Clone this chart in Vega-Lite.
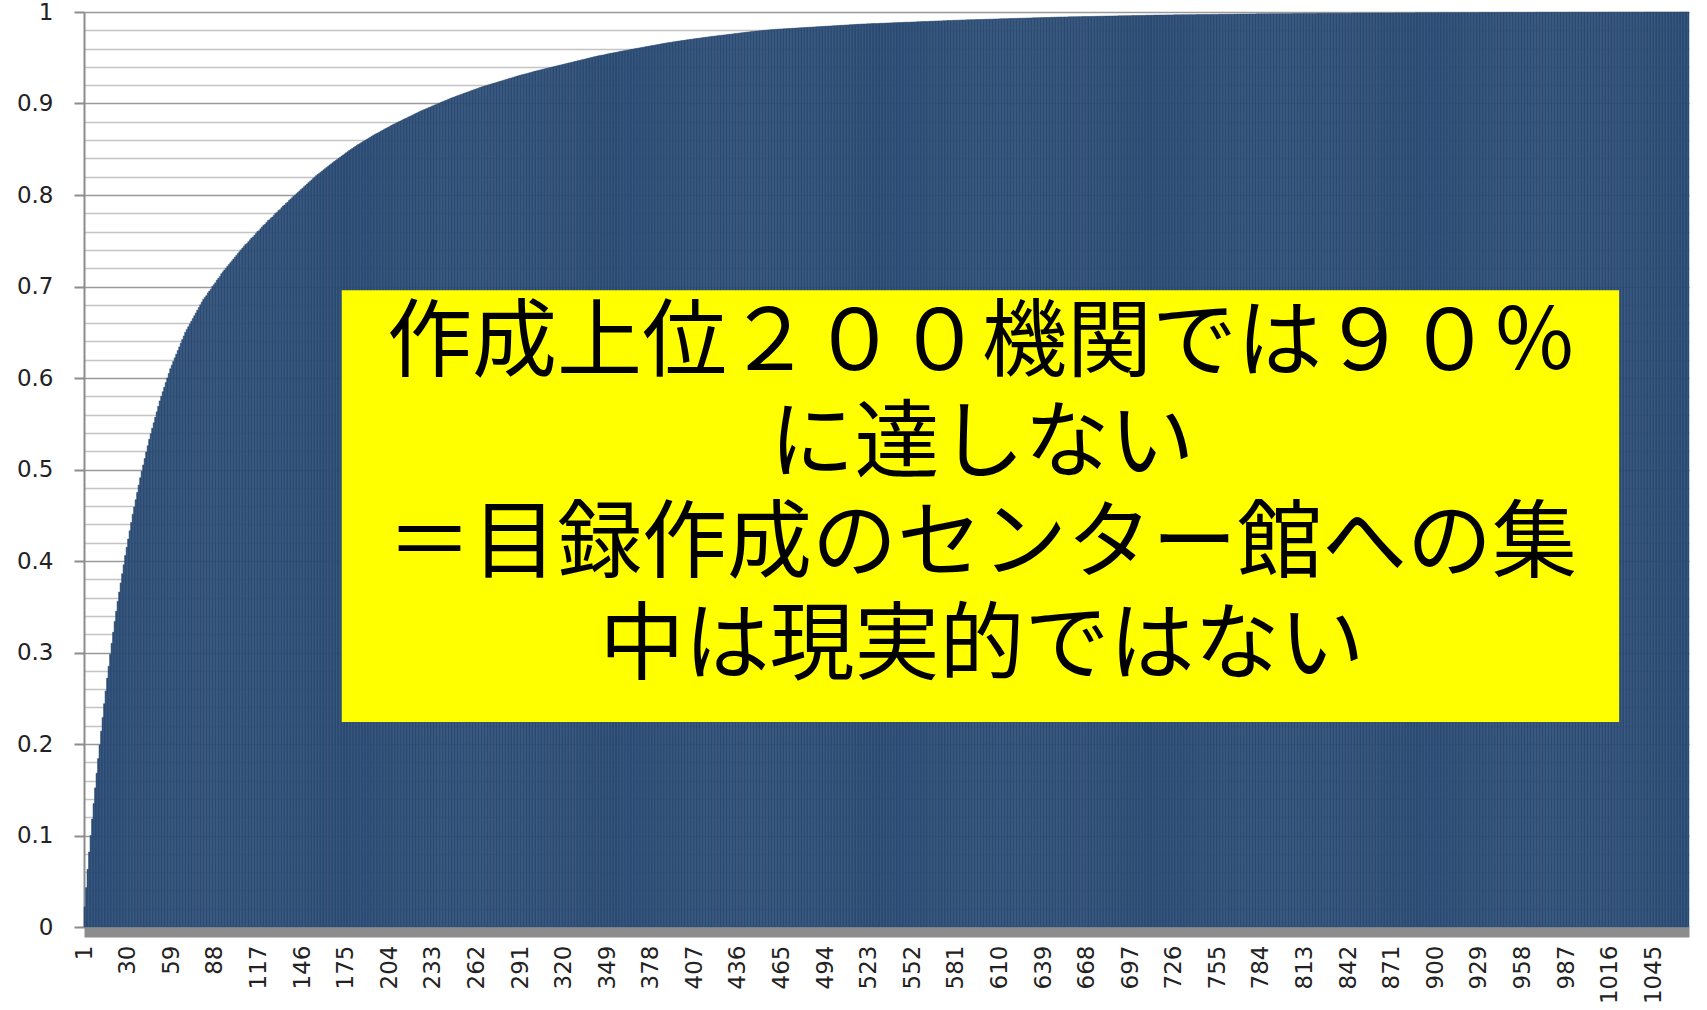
{
"$schema":"https://vega.github.io/schema/vega-lite/v6.json",
"width":1605,"height":915,
"autosize":{"type":"none"},
"padding":{"left":84,"top":12,"right":18,"bottom":83},
"background":"white",
"config":{"view":{"stroke":null}},
"layer":[
{"data":{"values":[
{"n":1,"v":0.022},{"n":2,"v":0.043},{"n":3,"v":0.063},{"n":4,"v":0.082},{"n":5,"v":0.1},{"n":6,"v":0.118},{"n":7,"v":0.135},{"n":8,"v":0.152},{"n":9,"v":0.168},{"n":10,"v":0.184},
{"n":11,"v":0.199},{"n":12,"v":0.214},{"n":13,"v":0.229},{"n":14,"v":0.244},{"n":15,"v":0.258},{"n":16,"v":0.272},{"n":17,"v":0.285},{"n":18,"v":0.298},{"n":19,"v":0.31},{"n":20,"v":0.322},
{"n":21,"v":0.334},{"n":22,"v":0.345},{"n":23,"v":0.356},{"n":24,"v":0.366},{"n":25,"v":0.376},{"n":26,"v":0.386},{"n":27,"v":0.396},{"n":28,"v":0.406},{"n":29,"v":0.415},{"n":30,"v":0.424},
{"n":31,"v":0.433},{"n":32,"v":0.442},{"n":33,"v":0.451},{"n":34,"v":0.459},{"n":35,"v":0.467},{"n":36,"v":0.475},{"n":37,"v":0.483},{"n":38,"v":0.491},{"n":39,"v":0.498},{"n":40,"v":0.505},
{"n":41,"v":0.512},{"n":42,"v":0.519},{"n":43,"v":0.526},{"n":44,"v":0.533},{"n":45,"v":0.539},{"n":46,"v":0.545},{"n":47,"v":0.551},{"n":48,"v":0.557},{"n":49,"v":0.563},{"n":50,"v":0.569},
{"n":51,"v":0.575},{"n":52,"v":0.58},{"n":53,"v":0.585},{"n":54,"v":0.59},{"n":55,"v":0.595},{"n":56,"v":0.6},{"n":57,"v":0.605},{"n":58,"v":0.61},{"n":59,"v":0.614},{"n":60,"v":0.618},
{"n":61,"v":0.622},{"n":62,"v":0.626},{"n":63,"v":0.63},{"n":64,"v":0.634},{"n":65,"v":0.638},{"n":66,"v":0.642},{"n":67,"v":0.646},{"n":68,"v":0.65},{"n":69,"v":0.653},{"n":70,"v":0.656},
{"n":71,"v":0.659},{"n":72,"v":0.662},{"n":73,"v":0.665},{"n":74,"v":0.668},{"n":75,"v":0.671},{"n":76,"v":0.674},{"n":77,"v":0.677},{"n":78,"v":0.68},{"n":79,"v":0.683},{"n":80,"v":0.686},
{"n":81,"v":0.688},{"n":82,"v":0.69},{"n":83,"v":0.693},{"n":84,"v":0.695},{"n":85,"v":0.697},{"n":86,"v":0.7},{"n":87,"v":0.702},{"n":88,"v":0.704},{"n":89,"v":0.707},{"n":90,"v":0.709},
{"n":91,"v":0.711},{"n":92,"v":0.714},{"n":93,"v":0.716},{"n":94,"v":0.718},{"n":95,"v":0.72},{"n":96,"v":0.722},{"n":97,"v":0.724},{"n":98,"v":0.726},{"n":99,"v":0.728},{"n":100,"v":0.73},
{"n":101,"v":0.732},{"n":102,"v":0.734},{"n":103,"v":0.736},{"n":104,"v":0.738},{"n":105,"v":0.74},{"n":106,"v":0.742},{"n":107,"v":0.744},{"n":108,"v":0.746},{"n":109,"v":0.747},{"n":110,"v":0.749},
{"n":111,"v":0.751},{"n":112,"v":0.753},{"n":113,"v":0.754},{"n":114,"v":0.756},{"n":115,"v":0.758},{"n":116,"v":0.76},{"n":117,"v":0.761},{"n":118,"v":0.763},{"n":119,"v":0.765},{"n":120,"v":0.767},
{"n":121,"v":0.768},{"n":122,"v":0.77},{"n":123,"v":0.772},{"n":124,"v":0.773},{"n":125,"v":0.775},{"n":126,"v":0.776},{"n":127,"v":0.778},{"n":128,"v":0.78},{"n":129,"v":0.781},{"n":130,"v":0.783},
{"n":131,"v":0.784},{"n":132,"v":0.786},{"n":133,"v":0.788},{"n":134,"v":0.789},{"n":135,"v":0.791},{"n":136,"v":0.792},{"n":137,"v":0.794},{"n":138,"v":0.7955},{"n":139,"v":0.797},{"n":140,"v":0.7985},
{"n":141,"v":0.8},{"n":142,"v":0.8015},{"n":143,"v":0.803},{"n":144,"v":0.8045},{"n":145,"v":0.806},{"n":146,"v":0.8075},{"n":147,"v":0.809},{"n":148,"v":0.8105},{"n":149,"v":0.812},{"n":150,"v":0.8135},
{"n":151,"v":0.815},{"n":152,"v":0.8165},{"n":153,"v":0.818},{"n":154,"v":0.8195},{"n":155,"v":0.821},{"n":156,"v":0.8223},{"n":157,"v":0.8236},{"n":158,"v":0.8249},{"n":159,"v":0.8262},{"n":160,"v":0.8275},
{"n":161,"v":0.8288},{"n":162,"v":0.8301},{"n":163,"v":0.8314},{"n":164,"v":0.8327},{"n":165,"v":0.834},{"n":166,"v":0.8353},{"n":167,"v":0.8365},{"n":168,"v":0.8377},{"n":169,"v":0.8389},{"n":170,"v":0.8401},
{"n":171,"v":0.8413},{"n":172,"v":0.8425},{"n":173,"v":0.8437},{"n":174,"v":0.8449},{"n":175,"v":0.8461},{"n":176,"v":0.8473},{"n":177,"v":0.8485},{"n":178,"v":0.8496},{"n":179,"v":0.8507},{"n":180,"v":0.8518},
{"n":181,"v":0.8529},{"n":182,"v":0.854},{"n":183,"v":0.8551},{"n":184,"v":0.8561},{"n":185,"v":0.8571},{"n":186,"v":0.8581},{"n":187,"v":0.8591},{"n":188,"v":0.8601},{"n":189,"v":0.8611},{"n":190,"v":0.8621},
{"n":191,"v":0.8631},{"n":192,"v":0.8641},{"n":193,"v":0.8651},{"n":194,"v":0.866},{"n":195,"v":0.8669},{"n":196,"v":0.8678},{"n":197,"v":0.8687},{"n":198,"v":0.8696},{"n":199,"v":0.8705},{"n":200,"v":0.8714},
{"n":201,"v":0.8723},{"n":202,"v":0.8732},{"n":203,"v":0.8741},{"n":204,"v":0.875},{"n":205,"v":0.8759},{"n":206,"v":0.8768},{"n":207,"v":0.8776},{"n":208,"v":0.8784},{"n":209,"v":0.8792},{"n":210,"v":0.88},
{"n":211,"v":0.8808},{"n":212,"v":0.8816},{"n":213,"v":0.8824},{"n":214,"v":0.8832},{"n":215,"v":0.884},{"n":216,"v":0.8848},{"n":217,"v":0.8856},{"n":218,"v":0.8864},{"n":219,"v":0.8872},{"n":220,"v":0.888},
{"n":221,"v":0.8888},{"n":222,"v":0.8896},{"n":223,"v":0.8904},{"n":224,"v":0.8912},{"n":225,"v":0.892},{"n":226,"v":0.8927},{"n":227,"v":0.8934},{"n":228,"v":0.8941},{"n":229,"v":0.8948},{"n":230,"v":0.8955},
{"n":231,"v":0.8962},{"n":232,"v":0.8969},{"n":233,"v":0.8976},{"n":234,"v":0.8983},{"n":235,"v":0.899},{"n":236,"v":0.8997},{"n":237,"v":0.9004},{"n":238,"v":0.9011},{"n":239,"v":0.9018},{"n":240,"v":0.9025},
{"n":241,"v":0.9032},{"n":242,"v":0.9039},{"n":243,"v":0.9046},{"n":244,"v":0.9053},{"n":245,"v":0.906},{"n":246,"v":0.9066},{"n":247,"v":0.9072},{"n":248,"v":0.9078},{"n":249,"v":0.9084},{"n":250,"v":0.909},
{"n":251,"v":0.9096},{"n":252,"v":0.9102},{"n":253,"v":0.9108},{"n":254,"v":0.9114},{"n":255,"v":0.912},{"n":256,"v":0.9126},{"n":257,"v":0.9132},{"n":258,"v":0.9138},{"n":259,"v":0.9144},{"n":260,"v":0.915},
{"n":261,"v":0.9156},{"n":262,"v":0.9162},{"n":263,"v":0.9168},{"n":264,"v":0.9174},{"n":265,"v":0.918},{"n":266,"v":0.9185},{"n":267,"v":0.919},{"n":268,"v":0.9195},{"n":269,"v":0.92},{"n":270,"v":0.9205},
{"n":271,"v":0.921},{"n":272,"v":0.9215},{"n":273,"v":0.922},{"n":274,"v":0.9225},{"n":275,"v":0.923},{"n":276,"v":0.9235},{"n":277,"v":0.924},{"n":278,"v":0.9245},{"n":279,"v":0.925},{"n":280,"v":0.9255},
{"n":281,"v":0.926},{"n":282,"v":0.9265},{"n":283,"v":0.927},{"n":284,"v":0.9275},{"n":285,"v":0.928},{"n":286,"v":0.9285},{"n":287,"v":0.929},{"n":288,"v":0.9295},{"n":289,"v":0.93},{"n":290,"v":0.9305},
{"n":291,"v":0.931},{"n":292,"v":0.9314},{"n":293,"v":0.9318},{"n":294,"v":0.9322},{"n":295,"v":0.9326},{"n":296,"v":0.933},{"n":297,"v":0.9335},{"n":298,"v":0.934},{"n":299,"v":0.9345},{"n":300,"v":0.935},
{"n":301,"v":0.9354},{"n":302,"v":0.9358},{"n":303,"v":0.9362},{"n":304,"v":0.9366},{"n":305,"v":0.937},{"n":306,"v":0.9374},{"n":307,"v":0.9378},{"n":308,"v":0.9382},{"n":309,"v":0.9386},{"n":310,"v":0.939},
{"n":311,"v":0.9394},{"n":312,"v":0.9398},{"n":313,"v":0.9402},{"n":314,"v":0.9406},{"n":315,"v":0.941},{"n":316,"v":0.9414},{"n":317,"v":0.9418},{"n":318,"v":0.9422},{"n":319,"v":0.9426},{"n":320,"v":0.943},
{"n":321,"v":0.9434},{"n":322,"v":0.9438},{"n":323,"v":0.9442},{"n":324,"v":0.9446},{"n":325,"v":0.945},{"n":326,"v":0.9454},{"n":327,"v":0.9458},{"n":328,"v":0.9462},{"n":329,"v":0.9466},{"n":330,"v":0.947},
{"n":331,"v":0.9474},{"n":332,"v":0.9478},{"n":333,"v":0.9482},{"n":334,"v":0.9486},{"n":335,"v":0.949},{"n":336,"v":0.9494},{"n":337,"v":0.9498},{"n":338,"v":0.9502},{"n":339,"v":0.9506},{"n":340,"v":0.951},
{"n":341,"v":0.9514},{"n":342,"v":0.9518},{"n":343,"v":0.9521},{"n":344,"v":0.9524},{"n":345,"v":0.9527},{"n":346,"v":0.953},{"n":347,"v":0.9534},{"n":348,"v":0.9538},{"n":349,"v":0.9542},{"n":350,"v":0.9545},
{"n":351,"v":0.9548},{"n":352,"v":0.9551},{"n":353,"v":0.9554},{"n":354,"v":0.9557},{"n":355,"v":0.956},{"n":356,"v":0.9564},{"n":357,"v":0.9568},{"n":358,"v":0.9571},{"n":359,"v":0.9574},{"n":360,"v":0.9577},
{"n":361,"v":0.958},{"n":362,"v":0.9583},{"n":363,"v":0.9586},{"n":364,"v":0.9589},{"n":365,"v":0.9592},{"n":366,"v":0.9595},{"n":367,"v":0.9598},{"n":368,"v":0.9601},{"n":369,"v":0.9604},{"n":370,"v":0.9607},
{"n":371,"v":0.961},{"n":372,"v":0.9613},{"n":373,"v":0.9616},{"n":374,"v":0.9619},{"n":375,"v":0.9622},{"n":376,"v":0.9625},{"n":377,"v":0.9628},{"n":378,"v":0.9631},{"n":379,"v":0.9634},{"n":380,"v":0.9637},
{"n":381,"v":0.964},{"n":382,"v":0.9643},{"n":383,"v":0.9646},{"n":384,"v":0.9649},{"n":385,"v":0.9652},{"n":386,"v":0.9655},{"n":387,"v":0.9658},{"n":388,"v":0.966},{"n":389,"v":0.9663},{"n":390,"v":0.9666},
{"n":391,"v":0.9668},{"n":392,"v":0.9671},{"n":393,"v":0.9674},{"n":394,"v":0.9676},{"n":395,"v":0.9679},{"n":396,"v":0.9682},{"n":397,"v":0.9684},{"n":398,"v":0.9687},{"n":399,"v":0.9689},{"n":400,"v":0.9691},
{"n":401,"v":0.9694},{"n":402,"v":0.9696},{"n":403,"v":0.9698},{"n":404,"v":0.9701},{"n":405,"v":0.9703},{"n":406,"v":0.9705},{"n":407,"v":0.9708},{"n":408,"v":0.971},{"n":409,"v":0.9712},{"n":410,"v":0.9714},
{"n":411,"v":0.9717},{"n":412,"v":0.9719},{"n":413,"v":0.9721},{"n":414,"v":0.9723},{"n":415,"v":0.9725},{"n":416,"v":0.9728},{"n":417,"v":0.973},{"n":418,"v":0.9732},{"n":419,"v":0.9734},{"n":420,"v":0.9736},
{"n":421,"v":0.9738},{"n":422,"v":0.974},{"n":423,"v":0.9742},{"n":424,"v":0.9744},{"n":425,"v":0.9746},{"n":426,"v":0.9748},{"n":427,"v":0.975},{"n":428,"v":0.9752},{"n":429,"v":0.9754},{"n":430,"v":0.9756},
{"n":431,"v":0.9758},{"n":432,"v":0.976},{"n":433,"v":0.9762},{"n":434,"v":0.9764},{"n":435,"v":0.9766},{"n":436,"v":0.9768},{"n":437,"v":0.977},{"n":438,"v":0.9772},{"n":439,"v":0.9774},{"n":440,"v":0.9776},
{"n":441,"v":0.9778},{"n":442,"v":0.978},{"n":443,"v":0.9782},{"n":444,"v":0.9784},{"n":445,"v":0.9786},{"n":446,"v":0.9788},{"n":447,"v":0.979},{"n":448,"v":0.9791},{"n":449,"v":0.9793},{"n":450,"v":0.9795},
{"n":451,"v":0.9796},{"n":452,"v":0.9798},{"n":453,"v":0.98},{"n":454,"v":0.9801},{"n":455,"v":0.9803},{"n":456,"v":0.9804},{"n":457,"v":0.9806},{"n":458,"v":0.9807},{"n":459,"v":0.9809},{"n":460,"v":0.981},
{"n":461,"v":0.9811},{"n":462,"v":0.9812},{"n":463,"v":0.9813},{"n":464,"v":0.9814},{"n":465,"v":0.9815},{"n":466,"v":0.9816},{"n":467,"v":0.9817},{"n":468,"v":0.9818},{"n":469,"v":0.9819},{"n":470,"v":0.982},
{"n":471,"v":0.9821},{"n":472,"v":0.9822},{"n":473,"v":0.9823},{"n":474,"v":0.9824},{"n":475,"v":0.9825},{"n":476,"v":0.9826},{"n":477,"v":0.9827},{"n":478,"v":0.9828},{"n":479,"v":0.9829},{"n":480,"v":0.983},
{"n":481,"v":0.9831},{"n":482,"v":0.9832},{"n":483,"v":0.9833},{"n":484,"v":0.9834},{"n":485,"v":0.9835},{"n":486,"v":0.9836},{"n":487,"v":0.9837},{"n":488,"v":0.9838},{"n":489,"v":0.9839},{"n":490,"v":0.984},
{"n":491,"v":0.9841},{"n":492,"v":0.9842},{"n":493,"v":0.9843},{"n":494,"v":0.9844},{"n":495,"v":0.9845},{"n":496,"v":0.9846},{"n":497,"v":0.9847},{"n":498,"v":0.9848},{"n":499,"v":0.9849},{"n":500,"v":0.985},
{"n":501,"v":0.9851},{"n":502,"v":0.9852},{"n":503,"v":0.9853},{"n":504,"v":0.9854},{"n":505,"v":0.9855},{"n":506,"v":0.9856},{"n":507,"v":0.9857},{"n":508,"v":0.9858},{"n":509,"v":0.9859},{"n":510,"v":0.986},
{"n":511,"v":0.9861},{"n":512,"v":0.9862},{"n":513,"v":0.9863},{"n":514,"v":0.9864},{"n":515,"v":0.9865},{"n":516,"v":0.9866},{"n":517,"v":0.9867},{"n":518,"v":0.9868},{"n":519,"v":0.9869},{"n":520,"v":0.9869},
{"n":521,"v":0.987},{"n":522,"v":0.9871},{"n":523,"v":0.9871},{"n":524,"v":0.9872},{"n":525,"v":0.9873},{"n":526,"v":0.9873},{"n":527,"v":0.9874},{"n":528,"v":0.9875},{"n":529,"v":0.9875},{"n":530,"v":0.9876},
{"n":531,"v":0.9877},{"n":532,"v":0.9877},{"n":533,"v":0.9878},{"n":534,"v":0.9879},{"n":535,"v":0.9879},{"n":536,"v":0.988},{"n":537,"v":0.9881},{"n":538,"v":0.9881},{"n":539,"v":0.9882},{"n":540,"v":0.9883},
{"n":541,"v":0.9883},{"n":542,"v":0.9884},{"n":543,"v":0.9885},{"n":544,"v":0.9885},{"n":545,"v":0.9886},{"n":546,"v":0.9887},{"n":547,"v":0.9887},{"n":548,"v":0.9888},{"n":549,"v":0.9889},{"n":550,"v":0.9889},
{"n":551,"v":0.989},{"n":552,"v":0.9891},{"n":553,"v":0.9891},{"n":554,"v":0.9892},{"n":555,"v":0.9893},{"n":556,"v":0.9893},{"n":557,"v":0.9894},{"n":558,"v":0.9895},{"n":559,"v":0.9895},{"n":560,"v":0.9896},
{"n":561,"v":0.9897},{"n":562,"v":0.9897},{"n":563,"v":0.9898},{"n":564,"v":0.9899},{"n":565,"v":0.9899},{"n":566,"v":0.99},{"n":567,"v":0.9901},{"n":568,"v":0.9901},{"n":569,"v":0.9902},{"n":570,"v":0.9903},
{"n":571,"v":0.9903},{"n":572,"v":0.9904},{"n":573,"v":0.9905},{"n":574,"v":0.9905},{"n":575,"v":0.9906},{"n":576,"v":0.9907},{"n":577,"v":0.9907},{"n":578,"v":0.9908},{"n":579,"v":0.9909},{"n":580,"v":0.9909},
{"n":581,"v":0.991},{"n":582,"v":0.9911},{"n":583,"v":0.9911},{"n":584,"v":0.9912},{"n":585,"v":0.9912},{"n":586,"v":0.9913},{"n":587,"v":0.9913},{"n":588,"v":0.9914},{"n":589,"v":0.9914},{"n":590,"v":0.9915},
{"n":591,"v":0.9915},{"n":592,"v":0.9916},{"n":593,"v":0.9916},{"n":594,"v":0.9917},{"n":595,"v":0.9917},{"n":596,"v":0.9918},{"n":597,"v":0.9918},{"n":598,"v":0.9919},{"n":599,"v":0.9919},{"n":600,"v":0.992},
{"n":601,"v":0.992},{"n":602,"v":0.9921},{"n":603,"v":0.9921},{"n":604,"v":0.9922},{"n":605,"v":0.9922},{"n":606,"v":0.9923},{"n":607,"v":0.9923},{"n":608,"v":0.9924},{"n":609,"v":0.9924},{"n":610,"v":0.9925},
{"n":611,"v":0.9925},{"n":612,"v":0.9926},{"n":613,"v":0.9926},{"n":614,"v":0.9927},{"n":615,"v":0.9927},{"n":616,"v":0.9928},{"n":617,"v":0.9928},{"n":618,"v":0.9929},{"n":619,"v":0.9929},{"n":620,"v":0.993},
{"n":621,"v":0.993},{"n":622,"v":0.9931},{"n":623,"v":0.9931},{"n":624,"v":0.9932},{"n":625,"v":0.9932},{"n":626,"v":0.9933},{"n":627,"v":0.9933},{"n":628,"v":0.9934},{"n":629,"v":0.9934},{"n":630,"v":0.9935},
{"n":631,"v":0.9935},{"n":632,"v":0.9936},{"n":633,"v":0.9936},{"n":634,"v":0.9937},{"n":635,"v":0.9937},{"n":636,"v":0.9938},{"n":637,"v":0.9938},{"n":638,"v":0.9939},{"n":639,"v":0.9939},{"n":640,"v":0.994},
{"n":641,"v":0.994},{"n":642,"v":0.9941},{"n":643,"v":0.9941},{"n":644,"v":0.9942},{"n":645,"v":0.9942},{"n":646,"v":0.9943},{"n":647,"v":0.9943},{"n":648,"v":0.9944},{"n":649,"v":0.9944},{"n":650,"v":0.9945},
{"n":651,"v":0.9945},{"n":652,"v":0.9945},{"n":653,"v":0.9946},{"n":654,"v":0.9946},{"n":655,"v":0.9946},{"n":656,"v":0.9947},{"n":657,"v":0.9947},{"n":658,"v":0.9947},{"n":659,"v":0.9948},{"n":660,"v":0.9948},
{"n":661,"v":0.9948},{"n":662,"v":0.9949},{"n":663,"v":0.9949},{"n":664,"v":0.9949},{"n":665,"v":0.995},{"n":666,"v":0.995},{"n":667,"v":0.995},{"n":668,"v":0.9951},{"n":669,"v":0.9951},{"n":670,"v":0.9951},
{"n":671,"v":0.9952},{"n":672,"v":0.9952},{"n":673,"v":0.9952},{"n":674,"v":0.9953},{"n":675,"v":0.9953},{"n":676,"v":0.9953},{"n":677,"v":0.9954},{"n":678,"v":0.9954},{"n":679,"v":0.9954},{"n":680,"v":0.9955},
{"n":681,"v":0.9955},{"n":682,"v":0.9955},{"n":683,"v":0.9956},{"n":684,"v":0.9956},{"n":685,"v":0.9956},{"n":686,"v":0.9957},{"n":687,"v":0.9957},{"n":688,"v":0.9957},{"n":689,"v":0.9958},{"n":690,"v":0.9958},
{"n":691,"v":0.9958},{"n":692,"v":0.9959},{"n":693,"v":0.9959},{"n":694,"v":0.9959},{"n":695,"v":0.996},{"n":696,"v":0.996},{"n":697,"v":0.996},{"n":698,"v":0.9961},{"n":699,"v":0.9961},{"n":700,"v":0.9961},
{"n":701,"v":0.9962},{"n":702,"v":0.9962},{"n":703,"v":0.9962},{"n":704,"v":0.9963},{"n":705,"v":0.9963},{"n":706,"v":0.9963},{"n":707,"v":0.9964},{"n":708,"v":0.9964},{"n":709,"v":0.9964},{"n":710,"v":0.9965},
{"n":711,"v":0.9965},{"n":712,"v":0.9965},{"n":713,"v":0.9966},{"n":714,"v":0.9966},{"n":715,"v":0.9966},{"n":716,"v":0.9967},{"n":717,"v":0.9967},{"n":718,"v":0.9967},{"n":719,"v":0.9967},{"n":720,"v":0.9967},
{"n":721,"v":0.9968},{"n":722,"v":0.9968},{"n":723,"v":0.9968},{"n":724,"v":0.9968},{"n":725,"v":0.9968},{"n":726,"v":0.9969},{"n":727,"v":0.9969},{"n":728,"v":0.9969},{"n":729,"v":0.9969},{"n":730,"v":0.9969},
{"n":731,"v":0.997},{"n":732,"v":0.997},{"n":733,"v":0.997},{"n":734,"v":0.997},{"n":735,"v":0.997},{"n":736,"v":0.9971},{"n":737,"v":0.9971},{"n":738,"v":0.9971},{"n":739,"v":0.9971},{"n":740,"v":0.9971},
{"n":741,"v":0.9972},{"n":742,"v":0.9972},{"n":743,"v":0.9972},{"n":744,"v":0.9972},{"n":745,"v":0.9972},{"n":746,"v":0.9973},{"n":747,"v":0.9973},{"n":748,"v":0.9973},{"n":749,"v":0.9973},{"n":750,"v":0.9973},
{"n":751,"v":0.9974},{"n":752,"v":0.9974},{"n":753,"v":0.9974},{"n":754,"v":0.9974},{"n":755,"v":0.9974},{"n":756,"v":0.9975},{"n":757,"v":0.9975},{"n":758,"v":0.9975},{"n":759,"v":0.9975},{"n":760,"v":0.9975},
{"n":761,"v":0.9976},{"n":762,"v":0.9976},{"n":763,"v":0.9976},{"n":764,"v":0.9976},{"n":765,"v":0.9976},{"n":766,"v":0.9977},{"n":767,"v":0.9977},{"n":768,"v":0.9977},{"n":769,"v":0.9977},{"n":770,"v":0.9977},
{"n":771,"v":0.9978},{"n":772,"v":0.9978},{"n":773,"v":0.9978},{"n":774,"v":0.9978},{"n":775,"v":0.9978},{"n":776,"v":0.9979},{"n":777,"v":0.9979},{"n":778,"v":0.9979},{"n":779,"v":0.9979},{"n":780,"v":0.9979},
{"n":781,"v":0.998},{"n":782,"v":0.998},{"n":783,"v":0.998},{"n":784,"v":0.998},{"n":785,"v":0.998},{"n":786,"v":0.998},{"n":787,"v":0.998},{"n":788,"v":0.998},{"n":789,"v":0.9981},{"n":790,"v":0.9981},
{"n":791,"v":0.9981},{"n":792,"v":0.9981},{"n":793,"v":0.9981},{"n":794,"v":0.9981},{"n":795,"v":0.9981},{"n":796,"v":0.9981},{"n":797,"v":0.9982},{"n":798,"v":0.9982},{"n":799,"v":0.9982},{"n":800,"v":0.9982},
{"n":801,"v":0.9982},{"n":802,"v":0.9982},{"n":803,"v":0.9982},{"n":804,"v":0.9982},{"n":805,"v":0.9983},{"n":806,"v":0.9983},{"n":807,"v":0.9983},{"n":808,"v":0.9983},{"n":809,"v":0.9983},{"n":810,"v":0.9983},
{"n":811,"v":0.9983},{"n":812,"v":0.9983},{"n":813,"v":0.9984},{"n":814,"v":0.9984},{"n":815,"v":0.9984},{"n":816,"v":0.9984},{"n":817,"v":0.9984},{"n":818,"v":0.9984},{"n":819,"v":0.9984},{"n":820,"v":0.9984},
{"n":821,"v":0.9985},{"n":822,"v":0.9985},{"n":823,"v":0.9985},{"n":824,"v":0.9985},{"n":825,"v":0.9985},{"n":826,"v":0.9985},{"n":827,"v":0.9985},{"n":828,"v":0.9985},{"n":829,"v":0.9986},{"n":830,"v":0.9986},
{"n":831,"v":0.9986},{"n":832,"v":0.9986},{"n":833,"v":0.9986},{"n":834,"v":0.9986},{"n":835,"v":0.9986},{"n":836,"v":0.9986},{"n":837,"v":0.9987},{"n":838,"v":0.9987},{"n":839,"v":0.9987},{"n":840,"v":0.9987},
{"n":841,"v":0.9987},{"n":842,"v":0.9987},{"n":843,"v":0.9987},{"n":844,"v":0.9987},{"n":845,"v":0.9988},{"n":846,"v":0.9988},{"n":847,"v":0.9988},{"n":848,"v":0.9988},{"n":849,"v":0.9988},{"n":850,"v":0.9988},
{"n":851,"v":0.9988},{"n":852,"v":0.9988},{"n":853,"v":0.9988},{"n":854,"v":0.9988},{"n":855,"v":0.9988},{"n":856,"v":0.9988},{"n":857,"v":0.9988},{"n":858,"v":0.9988},{"n":859,"v":0.9989},{"n":860,"v":0.9989},
{"n":861,"v":0.9989},{"n":862,"v":0.9989},{"n":863,"v":0.9989},{"n":864,"v":0.9989},{"n":865,"v":0.9989},{"n":866,"v":0.9989},{"n":867,"v":0.9989},{"n":868,"v":0.9989},{"n":869,"v":0.9989},{"n":870,"v":0.9989},
{"n":871,"v":0.9989},{"n":872,"v":0.9989},{"n":873,"v":0.999},{"n":874,"v":0.999},{"n":875,"v":0.999},{"n":876,"v":0.999},{"n":877,"v":0.999},{"n":878,"v":0.999},{"n":879,"v":0.999},{"n":880,"v":0.999},
{"n":881,"v":0.999},{"n":882,"v":0.999},{"n":883,"v":0.999},{"n":884,"v":0.999},{"n":885,"v":0.999},{"n":886,"v":0.999},{"n":887,"v":0.9991},{"n":888,"v":0.9991},{"n":889,"v":0.9991},{"n":890,"v":0.9991},
{"n":891,"v":0.9991},{"n":892,"v":0.9991},{"n":893,"v":0.9991},{"n":894,"v":0.9991},{"n":895,"v":0.9991},{"n":896,"v":0.9991},{"n":897,"v":0.9991},{"n":898,"v":0.9991},{"n":899,"v":0.9991},{"n":900,"v":0.9991},
{"n":901,"v":0.9992},{"n":902,"v":0.9992},{"n":903,"v":0.9992},{"n":904,"v":0.9992},{"n":905,"v":0.9992},{"n":906,"v":0.9992},{"n":907,"v":0.9992},{"n":908,"v":0.9992},{"n":909,"v":0.9992},{"n":910,"v":0.9992},
{"n":911,"v":0.9992},{"n":912,"v":0.9992},{"n":913,"v":0.9992},{"n":914,"v":0.9992},{"n":915,"v":0.9993},{"n":916,"v":0.9993},{"n":917,"v":0.9993},{"n":918,"v":0.9993},{"n":919,"v":0.9993},{"n":920,"v":0.9993},
{"n":921,"v":0.9993},{"n":922,"v":0.9993},{"n":923,"v":0.9993},{"n":924,"v":0.9993},{"n":925,"v":0.9993},{"n":926,"v":0.9993},{"n":927,"v":0.9993},{"n":928,"v":0.9993},{"n":929,"v":0.9994},{"n":930,"v":0.9994},
{"n":931,"v":0.9994},{"n":932,"v":0.9994},{"n":933,"v":0.9994},{"n":934,"v":0.9994},{"n":935,"v":0.9994},{"n":936,"v":0.9994},{"n":937,"v":0.9994},{"n":938,"v":0.9994},{"n":939,"v":0.9994},{"n":940,"v":0.9994},
{"n":941,"v":0.9994},{"n":942,"v":0.9994},{"n":943,"v":0.9995},{"n":944,"v":0.9995},{"n":945,"v":0.9995},{"n":946,"v":0.9995},{"n":947,"v":0.9995},{"n":948,"v":0.9995},{"n":949,"v":0.9995},{"n":950,"v":0.9995},
{"n":951,"v":0.9995},{"n":952,"v":0.9995},{"n":953,"v":0.9995},{"n":954,"v":0.9995},{"n":955,"v":0.9995},{"n":956,"v":0.9995},{"n":957,"v":0.9995},{"n":958,"v":0.9995},{"n":959,"v":0.9995},{"n":960,"v":0.9995},
{"n":961,"v":0.9995},{"n":962,"v":0.9995},{"n":963,"v":0.9995},{"n":964,"v":0.9995},{"n":965,"v":0.9995},{"n":966,"v":0.9995},{"n":967,"v":0.9996},{"n":968,"v":0.9996},{"n":969,"v":0.9996},{"n":970,"v":0.9996},
{"n":971,"v":0.9996},{"n":972,"v":0.9996},{"n":973,"v":0.9996},{"n":974,"v":0.9996},{"n":975,"v":0.9996},{"n":976,"v":0.9996},{"n":977,"v":0.9996},{"n":978,"v":0.9996},{"n":979,"v":0.9996},{"n":980,"v":0.9996},
{"n":981,"v":0.9996},{"n":982,"v":0.9996},{"n":983,"v":0.9996},{"n":984,"v":0.9996},{"n":985,"v":0.9996},{"n":986,"v":0.9996},{"n":987,"v":0.9996},{"n":988,"v":0.9996},{"n":989,"v":0.9996},{"n":990,"v":0.9996},
{"n":991,"v":0.9997},{"n":992,"v":0.9997},{"n":993,"v":0.9997},{"n":994,"v":0.9997},{"n":995,"v":0.9997},{"n":996,"v":0.9997},{"n":997,"v":0.9997},{"n":998,"v":0.9997},{"n":999,"v":0.9997},{"n":1000,"v":0.9997},
{"n":1001,"v":0.9997},{"n":1002,"v":0.9997},{"n":1003,"v":0.9997},{"n":1004,"v":0.9997},{"n":1005,"v":0.9997},{"n":1006,"v":0.9997},{"n":1007,"v":0.9997},{"n":1008,"v":0.9997},{"n":1009,"v":0.9997},{"n":1010,"v":0.9997},
{"n":1011,"v":0.9997},{"n":1012,"v":0.9997},{"n":1013,"v":0.9997},{"n":1014,"v":0.9997},{"n":1015,"v":0.9998},{"n":1016,"v":0.9998},{"n":1017,"v":0.9998},{"n":1018,"v":0.9998},{"n":1019,"v":0.9998},{"n":1020,"v":0.9998},
{"n":1021,"v":0.9998},{"n":1022,"v":0.9998},{"n":1023,"v":0.9998},{"n":1024,"v":0.9998},{"n":1025,"v":0.9998},{"n":1026,"v":0.9998},{"n":1027,"v":0.9998},{"n":1028,"v":0.9998},{"n":1029,"v":0.9998},{"n":1030,"v":0.9998},
{"n":1031,"v":0.9998},{"n":1032,"v":0.9998},{"n":1033,"v":0.9998},{"n":1034,"v":0.9998},{"n":1035,"v":0.9998},{"n":1036,"v":0.9998},{"n":1037,"v":0.9998},{"n":1038,"v":0.9998},{"n":1039,"v":0.9999},{"n":1040,"v":0.9999},
{"n":1041,"v":0.9999},{"n":1042,"v":0.9999},{"n":1043,"v":0.9999},{"n":1044,"v":0.9999},{"n":1045,"v":0.9999},{"n":1046,"v":0.9999},{"n":1047,"v":0.9999},{"n":1048,"v":0.9999},{"n":1049,"v":0.9999},{"n":1050,"v":0.9999},
{"n":1051,"v":0.9999},{"n":1052,"v":0.9999},{"n":1053,"v":0.9999},{"n":1054,"v":0.9999},{"n":1055,"v":0.9999},{"n":1056,"v":0.9999},{"n":1057,"v":0.9999},{"n":1058,"v":0.9999},{"n":1059,"v":0.9999},{"n":1060,"v":0.9999},
{"n":1061,"v":0.9999},{"n":1062,"v":0.9999},{"n":1063,"v":1},{"n":1064,"v":1},{"n":1065,"v":1},{"n":1066,"v":1},{"n":1067,"v":1},{"n":1068,"v":1}
]},
"mark":{"type":"bar","color":"#2c4c74","stroke":"#2c4c74","strokeWidth":0.5},
"encoding":{
"x":{"field":"n","type":"ordinal","scale":{"paddingInner":0,"paddingOuter":0},
"axis":{"title":null,"values":[1,30,59,88,117,146,175,204,233,262,291,320,349,378,407,436,465,494,523,552,581,610,639,668,697,726,755,784,813,842,871,900,929,958,987,1016,1045],
"tickCount":100,"labelAngle":-90,"labelFont":"DejaVu Sans","labelFontSize":23,"labelColor":"#222222","labelOverlap":false,"ticks":false,"labelPadding":13,
"domainColor":"#8c8c8c","domainWidth":10,"offset":5,"grid":false}},
"y":{"field":"v","type":"quantitative","scale":{"domain":[0,1],"nice":false},
"axis":{"title":null,"tickCount":100,"values":[0,0.02,0.04,0.06,0.08,0.1,0.12,0.14,0.16,0.18,0.2,0.22,0.24,0.26,0.28,0.3,0.32,0.34,0.36,0.38,0.4,0.42,0.44,0.46,0.48,0.5,0.52,0.54,0.56,0.58,0.6,0.62,0.64,0.66,0.68,0.7,0.72,0.74,0.76,0.78,0.8,0.82,0.84,0.86,0.88,0.9,0.92,0.94,0.96,0.98,1],
"labelExpr":"abs(datum.value*10-round(datum.value*10))<0.001 ? format(datum.value,'.1~f') : ''",
"labelOverlap":false,
"labelFont":"DejaVu Sans","labelFontSize":23,"labelColor":"#222222","labelPadding":21,
"tickSize":10,"tickColor":"#8c8c8c","tickWidth":2,
"tickOpacity":{"condition":{"test":"abs(datum.value*10-round(datum.value*10))<0.001","value":1},"value":0},
"domainColor":"#8c8c8c","domainWidth":2,
"grid":true,"gridWidth":1.6,
"gridColor":{"condition":{"test":"abs(datum.value*10-round(datum.value*10))<0.001","value":"#9a9a9a"},"value":"#c4c4c4"}}}
}},
{"data":{"values":[{"n":172,"n2":1022,"v":0.696,"v2":0.224}]},
"mark":{"type":"rect","color":"#ffff00"},
"encoding":{"x":{"field":"n","type":"ordinal"},"x2":{"field":"n2"},"y":{"field":"v","type":"quantitative"},"y2":{"field":"v2"}}},
{"data":{"values":[
{"n":598,"v":0.637,"t":"作成上位２００機関では９０％"},
{"n":598,"v":0.527,"t":"に達しない"},
{"n":598,"v":0.417,"t":"＝目録作成のセンター館への集"},
{"n":598,"v":0.306,"t":"中は現実的ではない"}
]},
"mark":{"type":"text","font":"Noto Sans CJK JP","fontSize":85,"color":"#000000","align":"center","baseline":"middle"},
"encoding":{"x":{"field":"n","type":"ordinal"},"y":{"field":"v","type":"quantitative"},"text":{"field":"t"}}}
]
}
